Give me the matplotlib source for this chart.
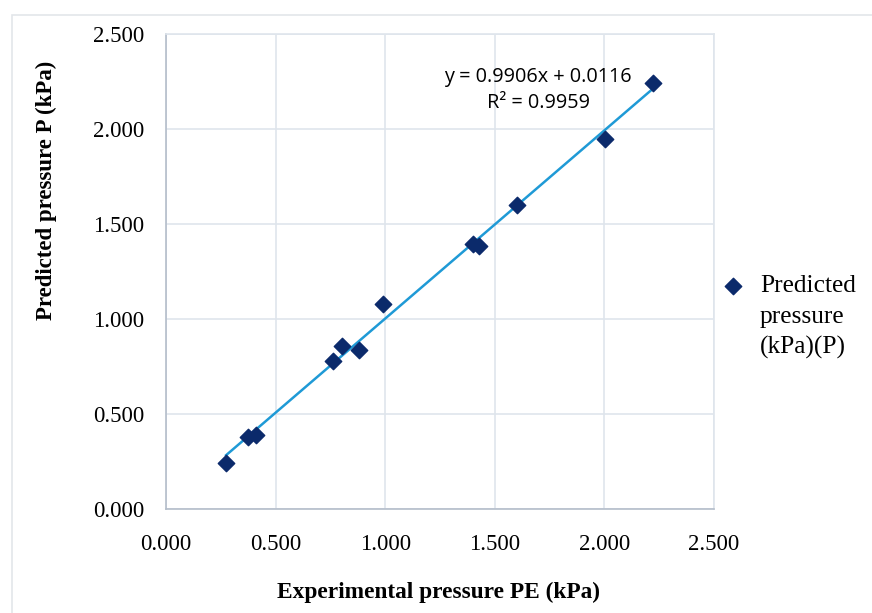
import matplotlib.pyplot as plt
from matplotlib.patches import Rectangle
import numpy as np

# experimental vs predicted pressure (kPa)
experimental = [0.274, 0.374, 0.411, 0.762, 0.803, 0.880, 0.990, 1.400, 1.428, 1.601, 2.003, 2.222]
predicted = [0.242, 0.379, 0.389, 0.779, 0.858, 0.837, 1.079, 1.395, 1.384, 1.600, 1.947, 2.242]
slope, intercept = 0.9906, 0.0116
r_squared = 0.9959
ticks = [0.0, 0.5, 1.0, 1.5, 2.0, 2.5]

SERIF = 'Liberation Serif'
grid_col = '#dfe5ec'
spine_col = '#b4bdca'

fig = plt.figure(figsize=(8.72, 6.13), dpi=100)
fig.patches.append(Rectangle((12 / 872, -0.01), 1.0, 1 - 15 / 613 + 0.01,
                             transform=fig.transFigure, fill=False,
                             edgecolor='#e3e6ea', linewidth=1.2))

ax = fig.add_axes([166 / 872, 1 - 509 / 613, 548 / 872, 475 / 613])

xs = np.array([min(experimental), max(experimental)])
ax.plot(xs, slope * xs + intercept, color='#1f9ad6', linewidth=1.8, zorder=2)
ax.scatter(experimental, predicted, marker='D', s=70, color='#0b2a6b',
           edgecolors='#0b2a6b', zorder=3, label='Predicted\npressure\n(kPa)(P)')

ax.set_xlim(0, 2.5)
ax.set_ylim(0, 2.5)
ax.set_xticks(ticks)
ax.set_yticks(ticks)
ax.set_xticklabels([f'{t:.3f}' for t in ticks], fontfamily=SERIF, fontsize=16.5)
ax.set_yticklabels([f'{t:.3f}' for t in ticks], fontfamily=SERIF, fontsize=16.5)
ax.tick_params(axis='x', length=0, pad=18)
ax.tick_params(axis='y', length=0, pad=15.5)
ax.grid(True, color=grid_col, linewidth=1.2)
ax.set_axisbelow(True)
for side in ['top', 'right']:
    ax.spines[side].set_color(grid_col)
    ax.spines[side].set_linewidth(1.2)
for side in ['left', 'bottom']:
    ax.spines[side].set_color(spine_col)
    ax.spines[side].set_linewidth(1.2)

ax.set_xlabel('Experimental pressure PE (kPa)', fontfamily=SERIF,
              fontweight='bold', fontsize=16.8)
ax.xaxis.set_label_coords(0.497, (509 - 582) / 475)
ax.set_ylabel('Predicted pressure P (kPa)', fontfamily=SERIF,
              fontweight='bold', fontsize=16.5, va='center')
ax.yaxis.set_label_coords((46 - 166) / 548, (509 - 190) / 475)

ax.text(538 / 872, 1 - 90 / 613,
        f'y = {slope}x + {intercept}\nR² = {r_squared}',
        transform=fig.transFigure, ha='center', va='center',
        fontfamily='Open Sans', fontsize=14.3, linespacing=1.42)

leg = ax.legend(loc='upper left', bbox_to_anchor=(723 / 872, 1 - 275 / 613),
                bbox_transform=fig.transFigure, frameon=False,
                prop={'family': SERIF, 'size': 18.3}, handletextpad=0.65,
                handlelength=0.8, borderaxespad=0, borderpad=0)
for txt in leg.get_texts():
    txt.set_linespacing(1.5)
# keep the marker level with the first line of the label
for column in leg._legend_handle_box.get_children():
    for item in column.get_children():
        item.align = 'top'

fig.savefig('out.png', dpi=100)
